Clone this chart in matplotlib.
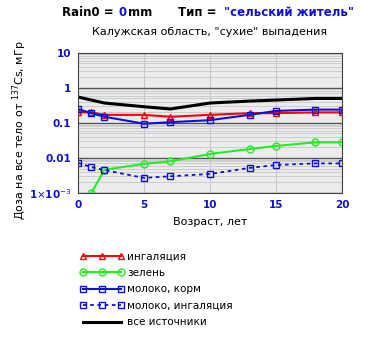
import matplotlib.pyplot as plt
from matplotlib.ticker import FixedLocator, LogLocator, NullFormatter

# ages, years
age = [0, 1, 2, 5, 7, 10, 13, 15, 18, 20]

# dose by pathway, mGy
inhal = [0.20, 0.20, 0.17, 0.17, 0.15, 0.17, 0.19, 0.19, 0.20, 0.20]
greens = [0.0005, 0.001, 0.0046, 0.0068, 0.008, 0.013, 0.018, 0.022, 0.028, 0.028]
milk_feed = [0.25, 0.19, 0.15, 0.095, 0.105, 0.12, 0.17, 0.22, 0.24, 0.24]
milk_inhal = [0.0072, 0.0055, 0.0045, 0.0027, 0.003, 0.0035, 0.0052, 0.0063, 0.007, 0.007]
total = [0.55, 0.45, 0.37, 0.29, 0.25, 0.37, 0.42, 0.45, 0.50, 0.50]

labels = ["ингаляция", "зелень", "молоко, корм", "молоко, ингаляция", "все источники"]
yticks = [1e-3, 0.01, 0.1, 1, 10]
ytick_labels = [r"1$\times$10$^{-3}$", "0.01", "0.1", "1", "10"]
xticks = [0, 5, 10, 15, 20]

blue = '#1010d0'

fig = plt.figure(figsize=(3.7, 3.41), dpi=100)
ax = fig.add_axes([0.211, 0.434, 0.713, 0.411])
ax.set_facecolor('#ececec')

ax.plot(age, inhal, color='red', lw=1.5, marker='^', ms=5, mfc='none', mec='red', label=labels[0])
ax.plot(age, greens, color='#22ee22', lw=1.5, marker='o', ms=5, mfc='none', mec='#22ee22', label=labels[1])
ax.plot(age, milk_feed, color=blue, lw=1.5, marker='s', ms=5, mfc='none', mec=blue, label=labels[2])
ax.plot(age, milk_inhal, color=blue, lw=1.3, ls=(0, (2, 2)), marker='s', ms=5, mfc='none', mec=blue, label=labels[3])
ax.plot(age, total, color='black', lw=2.2, label=labels[4])

ax.set_yscale('log')
ax.set_ylim(1e-3, 10)
ax.set_xlim(0, 20)
ax.yaxis.set_major_locator(FixedLocator(yticks))
ax.set_yticklabels(ytick_labels)
ax.yaxis.set_minor_locator(LogLocator(base=10, subs=range(2, 10)))
ax.yaxis.set_minor_formatter(NullFormatter())
ax.set_xticks(xticks)
ax.grid(which='major', axis='y', color='#555555', lw=1.0)
ax.grid(which='minor', axis='y', color='#c8c8c8', lw=0.6)
ax.grid(which='major', axis='x', color='#c8c8c8', lw=0.8)
ax.set_axisbelow(True)
ax.tick_params(axis='both', which='both', length=0, pad=5, labelsize=7.5, labelcolor=blue)
for t in ax.get_xticklabels() + ax.get_yticklabels():
    t.set_fontweight('bold')
for s in ax.spines.values():
    s.set_color('#444444')
    s.set_linewidth(0.8)

ax.set_xlabel("Возраст, лет", fontsize=8, labelpad=5)
ax.set_ylabel(r"Доза на все тело от $^{137}$Cs, мГр", fontsize=8)
ax.yaxis.set_label_coords(-0.19, 0.45)
ax.set_title('Калужская область, "сухие" выпадения', fontsize=8, pad=13)

# header
fig.text(0.168, 0.962, "Rain0 = ", fontsize=8.5, fontweight='bold', ha='left', va='center')
fig.text(0.32, 0.962, "0", fontsize=8.5, fontweight='bold', color=blue, ha='left', va='center')
fig.text(0.345, 0.962, "mm", fontsize=8.5, fontweight='bold', ha='left', va='center')
fig.text(0.48, 0.962, "Тип = ", fontsize=8.5, fontweight='bold', ha='left', va='center')
fig.text(0.605, 0.962, '"сельский житель"', fontsize=8.5, fontweight='bold', color=blue, ha='left', va='center')

fig.legend(loc='upper left', bbox_to_anchor=(0.205, 0.275), frameon=False, fontsize=7.5,
           numpoints=3, handlelength=4.2, handletextpad=0.3, labelspacing=0.62, borderaxespad=0)

fig.savefig('out.png', dpi=100)
